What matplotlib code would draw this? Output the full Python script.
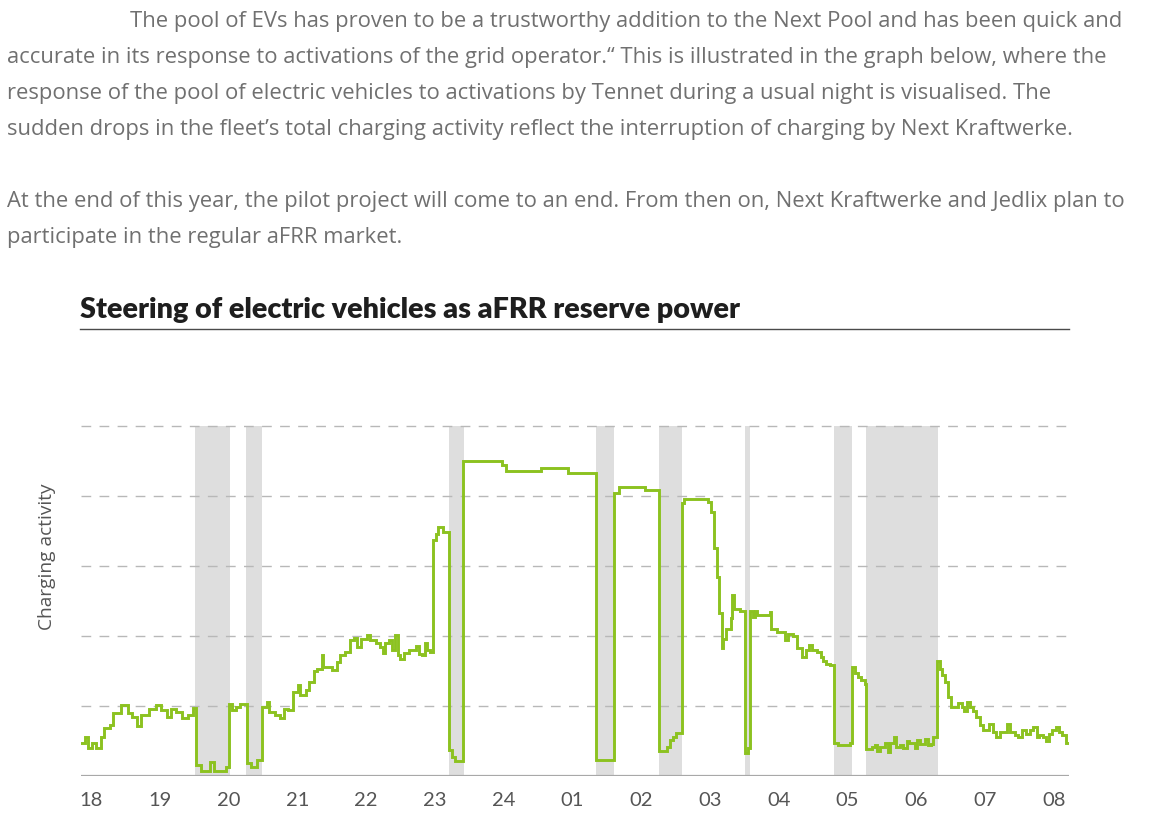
import matplotlib
matplotlib.use("Agg")
import matplotlib.pyplot as plt
from matplotlib.lines import Line2D
import numpy as np

# ---------------- data ----------------
# time in hours after 18:00, value = charging activity (gridline units)
times_h = [
    -0.14, -0.09, -0.04, 0.01, 0.08, 0.14, 0.19, 0.27, 0.32, 0.44,
    0.54, 0.59, 0.67, 0.73, 0.84, 0.95, 1.02, 1.11, 1.17, 1.24,
    1.32, 1.41, 1.48, 1.53, 1.60, 1.73, 1.79, 1.96, 2.01, 2.05,
    2.11, 2.17, 2.27, 2.32, 2.41, 2.48, 2.56, 2.59, 2.68, 2.75,
    2.80, 2.86, 2.94, 3.01, 3.04, 3.12, 3.17, 3.24, 3.29, 3.36,
    3.38, 3.50, 3.58, 3.62, 3.70, 3.76, 3.82, 3.87, 3.92, 4.01,
    4.05, 4.14, 4.20, 4.24, 4.27, 4.34, 4.38, 4.42, 4.46, 4.49,
    4.55, 4.62, 4.72, 4.77, 4.81, 4.85, 4.88, 4.93, 4.98, 5.02,
    5.05, 5.12, 5.21, 5.25, 5.30, 5.41, 5.97, 6.04, 6.54, 6.94,
    7.34, 7.61, 7.67, 8.06, 8.26, 8.37, 8.42, 8.46, 8.50, 8.59,
    8.62, 8.97, 9.02, 9.06, 9.10, 9.13, 9.17, 9.19, 9.23, 9.30,
    9.32, 9.35, 9.43, 9.51, 9.55, 9.58, 9.62, 9.65, 9.69, 9.87,
    9.89, 9.97, 10.09, 10.14, 10.21, 10.26, 10.34, 10.39, 10.44, 10.49,
    10.55, 10.61, 10.65, 10.69, 10.74, 10.81, 10.86, 11.03, 11.06, 11.11,
    11.15, 11.20, 11.25, 11.27, 11.35, 11.40, 11.43, 11.47, 11.54, 11.59,
    11.62, 11.67, 11.71, 11.77, 11.81, 11.86, 11.90, 11.98, 12.01, 12.06,
    12.12, 12.17, 12.22, 12.24, 12.30, 12.34, 12.38, 12.41, 12.46, 12.51,
    12.61, 12.66, 12.70, 12.74, 12.78, 12.83, 12.87, 12.92, 12.97, 13.06,
    13.11, 13.16, 13.21, 13.32, 13.36, 13.43, 13.48, 13.53, 13.59, 13.65,
    13.70, 13.75, 13.78, 13.84, 13.89, 13.93, 13.98, 14.03, 14.07, 14.12,
    14.17, 14.22,
]
activity = [
    0.47, 0.56, 0.40, 0.47, 0.40, 0.56, 0.68, 0.72, 0.89, 1.01,
    0.89, 0.84, 0.71, 0.87, 0.95, 1.01, 0.94, 0.84, 0.96, 0.91,
    0.82, 0.87, 0.97, 0.15, 0.07, 0.20, 0.07, 0.13, 1.03, 0.94,
    0.98, 1.03, 0.18, 0.13, 0.22, 0.98, 1.05, 0.91, 0.87, 0.82,
    0.96, 0.94, 1.20, 1.30, 1.15, 1.22, 1.34, 1.49, 1.53, 1.72,
    1.56, 1.51, 1.63, 1.72, 1.77, 1.94, 1.97, 1.84, 1.95, 2.01,
    1.94, 1.89, 1.84, 1.75, 1.89, 1.94, 1.80, 2.01, 1.72, 1.67,
    1.75, 1.80, 1.86, 1.74, 1.72, 1.89, 1.80, 1.77, 3.37, 3.46,
    3.56, 3.48, 0.37, 0.27, 0.21, 4.49, 4.44, 4.36, 4.40, 4.32,
    0.23, 4.04, 4.12, 4.08, 0.35, 0.41, 0.51, 0.56, 0.61, 3.89,
    3.95, 3.91, 3.77, 3.25, 2.84, 2.32, 1.82, 1.96, 2.09, 2.25,
    2.58, 2.38, 2.36, 0.32, 0.39, 2.36, 2.27, 2.36, 2.29, 2.34,
    2.10, 2.06, 1.94, 2.03, 2.00, 1.82, 1.70, 1.80, 1.87, 1.80,
    1.77, 1.70, 1.64, 1.60, 1.58, 0.47, 0.44, 0.47, 1.56, 1.47,
    1.41, 1.37, 1.31, 0.38, 0.41, 0.44, 0.35, 0.41, 0.47, 0.34,
    0.47, 0.55, 0.41, 0.44, 0.39, 0.49, 0.47, 0.39, 0.51, 0.45,
    0.53, 0.44, 0.46, 0.56, 1.64, 1.52, 1.44, 1.34, 1.13, 0.98,
    1.04, 0.98, 0.93, 1.05, 0.98, 0.92, 0.84, 0.72, 0.66, 0.74,
    0.63, 0.56, 0.63, 0.74, 0.63, 0.58, 0.55, 0.66, 0.60, 0.66,
    0.70, 0.56, 0.58, 0.56, 0.50, 0.60, 0.66, 0.69, 0.62, 0.58,
    0.47, 0.47,
]
assert len(times_h) == len(activity)

# aFRR activation periods (hours after 18:00)
activation_start = [1.51, 2.26, 5.20, 7.34, 8.26, 9.51, 10.80, 11.27]
activation_end   = [2.02, 2.49, 5.42, 7.61, 8.59, 9.58, 11.06, 12.31]

hour_labels = ["18", "19", "20", "21", "22", "23", "24", "01", "02",
               "03", "04", "05", "06", "07", "08"]
grid_levels = [1, 2, 3, 4, 5]

title = "Steering of electric vehicles as aFRR reserve power"
ylabel = "Charging activity"
paragraph = [
    "The pool of EVs has proven to be a trustworthy addition to the Next Pool and has been quick and",
    "accurate in its response to activations of the grid operator.\u201c This is illustrated in the graph below, where the",
    "response of the pool of electric vehicles to activations by Tennet during a usual night is visualised. The",
    "sudden drops in the fleet\u2019s total charging activity reflect the interruption of charging by Next Kraftwerke.",
    "At the end of this year, the pilot project will come to an end. From then on, Next Kraftwerke and Jedlix plan to",
    "participate in the regular aFRR market.",
]

# ---------------- layout ----------------
W, H = 1150, 835
fig = plt.figure(figsize=(W / 100, H / 100), dpi=100)
fig.patch.set_facecolor("white")
renderer = fig.canvas.get_renderer()


def fx(px):
    return px / W


def fy(py):
    return 1 - py / H


def fitted_size(txt, family, weight, target_w, base=14):
    t = fig.text(0, 0, txt, fontsize=base, family=family, fontweight=weight)
    w = t.get_window_extent(renderer).width
    t.remove()
    return base * target_w / w


TEXT_FONT = "Open Sans"
ps = fitted_size(paragraph[4], TEXT_FONT, "normal", 1125)
para_x = [130, 7, 7, 7, 7, 7]
para_y = [26.7, 62.7, 98.7, 134.7, 206.7, 242.7]
for line, x, y in zip(paragraph, para_x, para_y):
    fig.text(fx(x), fy(y), line, fontsize=ps, family=TEXT_FONT,
             color="#707070", va="baseline", ha="left")

# title
ts = fitted_size(title, "Lato", "heavy", 660)
fig.text(fx(80), fy(318), title, fontsize=ts, family="Lato",
         fontweight="heavy", color="#1e1e1e", va="baseline", ha="left")
fig.add_artist(Line2D([fx(80), fx(1069)], [fy(329), fy(329)],
                      color="#4a4a4a", lw=1.0))

# axes
x_left, x_right = -0.145, 14.22
y_top = 5.05
ax_l, ax_r = 81, 1069
ax_b = 775.7
ax_t = ax_b - y_top * 70
ax = fig.add_axes([fx(ax_l), fy(ax_b), (ax_r - ax_l) / W, (ax_b - ax_t) / H])
ax.set_xlim(x_left, x_right)
ax.set_ylim(0, y_top)
for s in ax.spines.values():
    s.set_visible(False)

for a, b in zip(activation_start, activation_end):
    ax.fill_between([a, b], 0, 5, color="#dedede", lw=0, zorder=1)

for g in grid_levels:
    ax.axhline(g, color="#b8b8b8", lw=1.0, dashes=(7, 6), zorder=2)
ax.axhline(0, color="#a8a8a8", lw=1.6, zorder=2)

ax.step(times_h, activity, where="post", color="#8cc220", lw=2.1,
        zorder=3, solid_joinstyle="miter")

ax.set_yticks([])
ax.set_xticks(range(len(hour_labels)))
ax.set_xticklabels(hour_labels, family="Lato", fontsize=14.5, color="#555555")
ax.tick_params(axis="x", length=0, pad=12)

ys = fitted_size(ylabel, "Open Sans", "normal", 147)
fig.text(fx(47), fy(557), ylabel, rotation=90, fontsize=ys,
         family="Open Sans", color="#555555", ha="center", va="center")

fig.savefig("out.png", dpi=100, facecolor="white")
